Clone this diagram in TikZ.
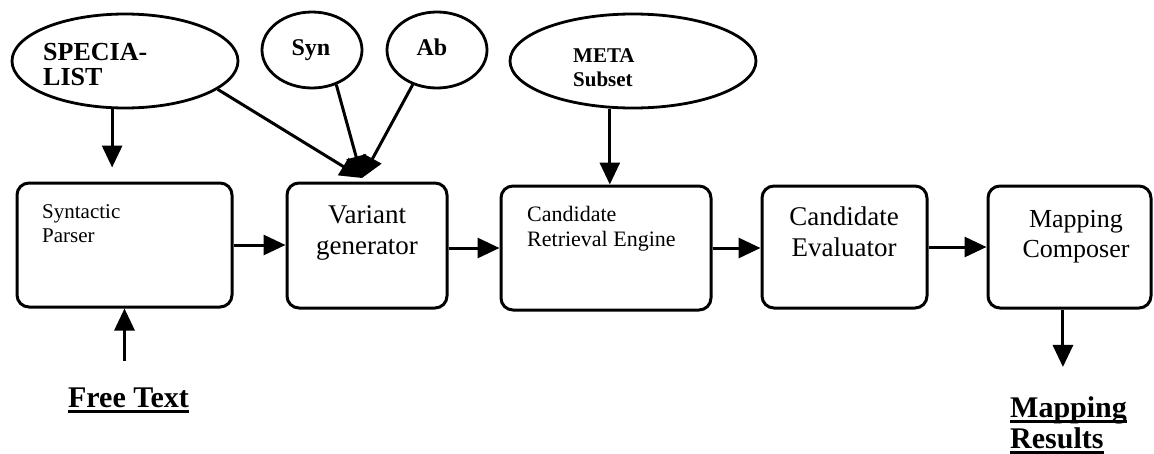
\documentclass[tikz,border=0pt]{standalone}
\usepackage{fontspec}
\setmainfont{Liberation Serif}
\usetikzlibrary{arrows.meta,shapes.geometric,calc}
\newcommand{\ulword}[1]{\sbox0{#1}\rlap{\rule[-6pt]{\wd0}{2.6pt}}\usebox0}
\begin{document}
\begin{tikzpicture}[x=1pt,y=-1pt,
  box/.style={draw,line width=3pt,rounded corners=12pt,inner sep=0pt},
  ell/.style={draw,ellipse,line width=2.8pt,inner sep=0pt},
  arr/.style={line width=3pt,-{Triangle[length=22pt,width=20pt]}},
  lbl/.style={inner sep=0pt,align=left},
  lblc/.style={inner sep=0pt,align=center},
]
\useasboundingbox (0,0) rectangle (1154,453);

% ellipses
\node[ell,minimum width=226pt,minimum height=94pt] (spec) at (125,61) {};
\node[ell,minimum width=100pt,minimum height=76pt] (syn) at (312,50) {};
\node[ell,minimum width=100pt,minimum height=76pt] (ab) at (437,50) {};
\node[ell,minimum width=246pt,minimum height=94pt] (meta) at (633,61) {};

% boxes
\node[box,minimum width=215pt,minimum height=124pt] (sp) at (124.5,245) {};
\node[box,minimum width=160pt,minimum height=125pt] (vg) at (367,245.5) {};
\node[box,minimum width=210pt,minimum height=124pt] (cre) at (606,248) {};
\node[box,minimum width=165pt,minimum height=122pt] (ce) at (844.5,247) {};
\node[box,minimum width=163pt,minimum height=122pt] (mc) at (1069.5,247) {};

% texts (base anchor = baseline of the last line)
\node[lbl,font=\fontsize{26}{25}\selectfont\bfseries,anchor=base west] (spect) at (43,85) {SPECIA-\\LIST};
\node[lblc,font=\fontsize{24}{25}\selectfont\bfseries,anchor=base] (synt) at (311,55) {Syn};
\node[lblc,font=\fontsize{24}{25}\selectfont\bfseries,anchor=base] (abt) at (432,55) {Ab};
\node[lbl,font=\fontsize{21}{24}\selectfont\bfseries,anchor=base west] (metat) at (573,86) {META\\Subset};
\node[lbl,font=\fontsize{21}{24}\selectfont,anchor=base west] (spt) at (42,242) {Syntactic\\Parser};
\node[lblc,font=\fontsize{27}{31}\selectfont,anchor=base] (vgt) at (367,254) {Variant\\generator};
\node[lbl,font=\fontsize{22}{25}\selectfont,anchor=base west] (cret) at (527,246) {Candidate\\Retrieval Engine};
\node[lblc,font=\fontsize{27}{31}\selectfont,anchor=base] (cet) at (844,256) {Candidate\\Evaluator};
\node[lblc,font=\fontsize{26}{30}\selectfont,anchor=base] (mct) at (1076,257) {Mapping\\Composer};
\node[lblc,font=\fontsize{30}{31}\selectfont\bfseries,anchor=base] (ft) at (128.5,407) {\ulword{Free Text}};
\node[lbl,font=\fontsize{30}{31}\selectfont\bfseries,anchor=base west] (res) at (1010,448) {\ulword{Mapping}\\\ulword{Results}};

% connectors
\coordinate (merge) at (362,178);
\draw[arr] (spec.-17) -- (merge);
\draw[arr] (syn.-55) -- (merge);
\draw[arr] (ab.-125) -- (merge);
\draw[arr,shorten >=14pt] (spec.-105.6) -- (spec.-105.6 |- sp.north);
\draw[arr] (meta.-116.5) -- (meta.-116.5 |- cre.north);
\draw[arr,shorten <=26pt] (sp.south |- ft.north) -- (sp.south);
\draw[arr,shorten >=29pt] (mc.-96.5) -- (mc.-96.5 |- res.north);
\draw[arr] (sp.east) -- (sp.east -| vg.west);
\draw[arr] (cre.west -| vg.east) -- (cre.west);
\draw[arr] (cre.east) -- (cre.east -| ce.west);
\draw[arr] (ce.east) -- (ce.east -| mc.west);
\end{tikzpicture}
\end{document}
